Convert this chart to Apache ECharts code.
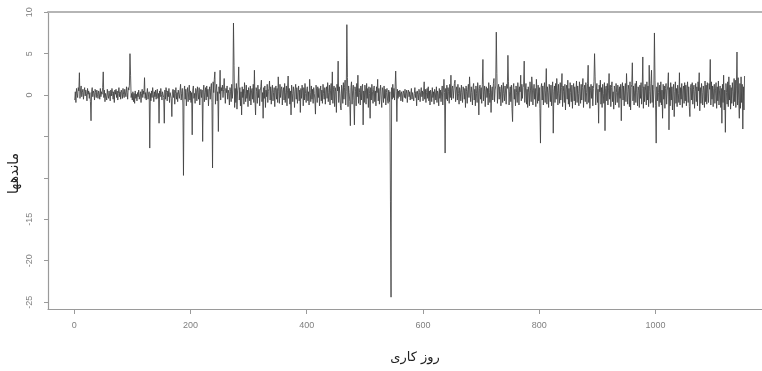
<!DOCTYPE html>
<html>
<head>
<meta charset="utf-8">
<script src="https://cdn.jsdelivr.net/npm/echarts@6/dist/echarts.min.js"></script>
<style>
  html, body { margin: 0; padding: 0; background: #fff; }
  #chart { width: 762px; height: 371px; }
</style>
</head>
<body>
<div id="chart"></div>
<script>
// residuals by working day in blocks of 200 days
const res0001to0200 = [
  -0.6, 0.4, -0.9, 0.8, 0.2, -0.3, 0.9, 0.5, 2.7, -0.4,
  0.6, 1.1, -0.2, 0.3, 0.7, -0.5, 0.4, 0.9, -0.1, 0.6,
  0.2, -0.7, 0.8, 0.1, 0.5, -0.4, 0.3, -0.8, -3.1, 0.4,
  0.9, -0.2, 0.5, 0.2, -0.6, 0.7, 0.3, -0.3, 0.6, 0.1,
  -0.4, 0.5, 0.2, -0.5, 0.8, -0.2, 0.4, 0.1, 0.9, 2.8,
  -0.3, 0.6, -0.8, 0.2, 0.4, -0.6, 0.7, 0.0, -0.4, 0.5,
  0.3, -0.7, 0.6, -0.1, 0.8, 0.2, -0.5, 0.4, -0.9, 0.6,
  0.1, 0.7, -0.3, 0.5, -0.6, 0.2, 0.9, -0.2, 0.4, -0.5,
  0.6, 0.3, -0.4, 0.8, 0.1, -0.3, 0.7, 0.5, -0.2, 1.0,
  0.3, -0.5, 0.9, 0.6, 1.2, 5.0, 2.4, -0.3, 0.2, -0.6,
  0.4, -0.8, 0.2, -1.0, 0.5, -0.4, 0.1, -0.7, 0.3, -0.2,
  0.6, -0.5, -0.1, 0.4, -0.9, 0.2, 0.7, -0.3, 0.5, 0.1,
  2.1, -0.4, 0.3, -0.6, 0.2, 0.8, -0.5, 0.1, 0.4, -6.4,
  0.2, -0.7, 0.5, -0.3, 0.9, 0.1, -0.8, 0.4, -0.2, 0.6,
  -0.5, 0.3, 0.7, -0.4, 0.2, -3.4, 0.5, -0.2, 0.8, 0.1,
  -0.6, 0.4, 0.2, -0.3, -3.4, 0.6, -0.5, 0.9, 0.3, -0.7,
  0.5, -0.2, 0.8, -0.9, 0.3, 0.1, -0.4, -2.6, 0.4, 0.7,
  -0.3, 0.6, -1.1, 0.2, 0.9, -0.5, 0.3, -0.8, 0.6, 0.1,
  -0.4, 0.5, 1.3, -0.6, 0.2, 0.8, -1.2, -9.7, 0.4, 1.1,
  -0.5, 0.7, -1.3, 0.3, 0.9, -0.8, 0.4, 1.2, -0.6, 0.5
]
const res0201to0400 = [
  -0.9, 0.3, -4.8, 0.6, 1.1, -0.4, 0.2, -1.0, 0.8, 0.5,
  -0.7, 1.0, 0.3, -0.5, 0.9, -1.2, 0.4, 0.7, -0.3, 0.6,
  -5.6, 0.5, 1.2, -0.8, 0.3, 0.9, -0.6, 1.1, -0.2, 0.7,
  -1.3, 0.4, 1.0, -0.5, 0.8, 1.4, -0.9, -8.8, 1.6, 0.3,
  1.9, 2.8, -1.1, 0.6, 1.3, -0.7, 0.4, -4.4, 1.0, 0.2,
  3.0, -0.6, 0.9, 0.5, 1.2, -0.3, 0.7, 2.0, 0.4, -1.0,
  0.8, 0.3, 1.1, -0.5, 0.6, 0.2, -1.2, 0.9, 0.4, -0.8,
  1.3, -0.4, 0.6, 8.7, 3.6, -1.5, 0.8, -0.9, 1.4, -1.7,
  0.5, 1.1, 3.4, -0.6, 0.9, -1.3, 0.4, -2.4, 1.0, -0.3,
  0.7, -1.1, 1.5, 0.2, -0.8, 1.2, -0.4, 0.6, -1.4, 0.9,
  0.3, -0.7, 1.1, -1.2, 0.5, 0.8, -0.5, 1.3, -0.9, 3.0,
  -0.6, -2.4, 0.9, 0.4, -1.0, 1.2, -0.3, 0.7, -1.3, 0.5,
  1.0, 1.8, -0.8, 0.3, -2.8, 0.9, -0.4, 1.1, -1.5, 0.6,
  -0.2, 1.3, -0.9, 0.4, 0.8, 1.7, -0.6, 1.0, -1.1, 0.5,
  1.2, -0.7, 0.3, 0.9, -1.4, 0.6, 1.1, -0.5, 0.8, -0.9,
  2.2, 0.4, -1.0, 1.3, -0.3, 0.7, 1.0, -1.2, 0.5, 0.9,
  -0.6, 1.4, -0.9, 0.3, 1.1, -1.3, 0.6, 2.3, -0.4, 0.8,
  -1.1, 0.5, -2.4, 1.2, 0.2, -0.8, 1.0, 0.4, -1.5, 0.7,
  1.3, -0.5, 0.9, -1.0, 0.3, 1.1, -0.7, 0.6, -2.1, 0.8,
  -0.4, 1.2, 0.5, -1.3, 0.9, -0.6, 1.4, 0.2, -0.9, 0.6
]
const res0401to0600 = [
  1.0, -0.7, 0.4, -1.2, 1.9, 0.3, -0.8, 1.1, -0.5, 0.7,
  -1.0, 0.9, 0.2, -0.6, -2.3, 1.2, 0.5, -0.9, 1.0, -0.3,
  0.8, -1.3, 0.4, 1.1, -0.7, 0.6, -1.0, 1.3, 0.2, -0.5,
  0.9, -1.1, 0.5, 1.0, -0.4, 1.5, -0.8, 0.3, 1.2, -1.2,
  0.6, 1.4, -0.6, 2.8, -1.0, 0.7, 1.1, -1.4, 0.9, 0.4,
  -2.1, 1.3, 0.5, 4.1, -0.9, 1.0, 0.2, -1.3, -1.8, 1.2,
  0.6, -1.0, 1.5, -0.5, 0.9, 1.8, -1.2, 0.4, 8.5, 2.1,
  -1.4, 1.1, 0.3, -0.8, -3.7, 0.9, 1.6, -1.1, 0.5, 1.2,
  -0.7, -3.6, 1.0, 0.4, -1.3, 1.4, -0.2, 2.4, -1.0, 0.8,
  0.3, -1.2, 1.1, -0.6, 0.9, 1.3, -3.6, 0.5, -0.9, 1.2,
  0.6, -1.1, 1.4, -0.4, 0.8, -1.5, 1.0, 0.2, -2.8, 0.9,
  -0.6, 1.3, 0.4, -1.0, 0.7, 1.1, -0.8, 0.5, -1.3, 1.0,
  0.3, 1.9, -0.7, 0.8, -1.1, 0.4, 1.2, -0.5, -1.5, 0.9,
  0.5, -0.9, 1.1, -0.4, 0.7, -1.2, 0.3, 0.8, -0.6, -1.0,
  0.6, -0.8, 0.4, -12.8, -24.4, 0.9, -0.5, 1.3, -0.3, 0.8,
  -0.6, 1.0, 2.9, 0.4, -3.2, 0.7, -0.4, 0.5, -0.2, 0.6,
  0.3, -0.7, 0.4, 0.1, -0.8, 0.5, 0.2, -0.3, 0.7, -0.4,
  0.2, 0.6, -0.9, 0.3, 0.6, -0.2, 0.4, -0.6, 0.1, 0.8,
  -0.5, 0.3, 0.5, -0.7, 0.2, 0.9, -0.3, 0.4, -1.3, 0.5,
  0.1, -0.6, 0.7, 0.3, -0.8, 0.4, 0.9, -0.2, 0.5, -0.7
]
const res0601to0800 = [
  0.4, 1.6, -0.5, 0.7, -0.9, 0.3, 0.8, -0.4, 1.0, -0.7,
  0.5, -1.2, 0.6, 0.2, -0.8, 0.9, -0.3, 0.4, -1.1, 0.7,
  0.3, -0.6, 1.0, -0.9, 0.5, 0.2, -1.3, 0.8, -0.4, 0.6,
  -0.8, 0.4, 1.1, -1.2, 0.5, 1.9, 0.3, -7.0, 0.8, -0.5,
  1.2, -0.7, 0.9, 0.4, -1.0, 1.3, -0.3, 2.4, -0.6, 0.8,
  1.1, -0.4, 0.6, 1.4, 1.8, -0.8, 0.5, 1.0, -0.6, 1.3,
  0.2, -1.1, 0.9, 0.5, -0.7, 1.2, 0.3, -0.9, 1.0, 0.6,
  -0.5, 0.8, -1.5, 1.1, 0.4, -1.0, 0.7, 1.3, -0.3, 2.2,
  0.5, -0.8, 1.0, 0.3, -1.2, 0.9, 1.4, -0.6, 0.7, -1.3,
  1.1, 0.2, -0.9, 1.5, 0.6, -2.4, 0.8, 1.2, -0.5, 0.9,
  -1.0, 1.3, 4.3, -0.7, 0.4, 1.1, -1.4, 0.6, 1.0, -0.3,
  0.8, -1.2, 1.5, 0.3, -0.9, 1.2, -2.1, 0.5, 1.0, -0.6,
  1.4, 2.0, -0.8, 0.6, 1.1, 7.6, 2.6, -1.0, 0.9, 1.3,
  -0.5, 1.0, 0.4, -1.3, 1.2, 0.7, -0.9, 1.5, 0.2, -0.7,
  1.1, 0.5, -1.1, 1.3, 0.8, 4.8, 1.6, -1.2, 0.4, 1.0,
  -0.8, 1.2, -1.6, -3.2, 0.9, 1.4, -0.5, 0.7, -1.3, 1.1,
  0.3, -0.9, 1.5, 0.6, -1.2, 1.0, 0.4, 2.4, -0.7, 1.3,
  -0.4, 0.9, 1.2, 4.1, -0.9, 0.5, 1.4, -1.1, 0.7, -1.5,
  1.0, 0.3, -1.3, 1.6, 0.5, -0.8, 2.2, 1.1, -1.2, 0.6,
  1.3, -0.5, 0.8, -1.4, 1.9, 0.4, -1.0, 1.2, -0.7, 0.9
]
const res0801to1000 = [
  -1.6, -5.8, 0.9, 1.4, -0.6, 1.1, -1.2, 0.7, 1.5, -0.9,
  0.5, 3.2, -1.1, 1.0, 0.3, -1.5, 1.3, 0.6, -0.8, 1.2,
  -1.3, 0.8, 1.6, -4.6, 0.4, 1.1, -0.9, 1.4, -0.5, 2.0,
  0.6, -1.2, 1.3, 0.2, -1.0, 1.5, -0.6, 0.9, 2.6, -1.4,
  1.1, 0.4, -0.9, 1.3, -1.8, 0.7, 1.2, -0.5, 1.8, -1.1,
  0.8, -1.4, 1.5, 0.3, -0.8, 1.2, -1.6, 0.6, 1.4, -0.7,
  1.0, -1.2, 0.5, 1.7, -0.9, 1.1, 0.2, -1.3, 1.6, 0.4,
  -1.0, 1.3, -0.6, 0.9, 2.0, -1.5, 0.7, 1.2, -0.8, 1.5,
  0.3, -1.1, 1.4, 3.6, -0.9, 1.0, -1.6, 0.6, 1.3, -0.4,
  1.1, -1.3, 0.8, 1.6, 5.0, 2.2, -1.2, 0.5, 1.4, -0.9,
  0.7, -3.4, 1.2, 0.4, 1.8, -1.1, 0.9, -1.5, 1.3, 0.2,
  -1.0, 1.5, -4.3, 0.8, 1.1, -0.7, 1.4, -1.2, 0.6, 2.6,
  -0.5, 1.2, -1.4, 0.9, 1.6, -0.8, 0.4, -1.7, 1.1, 0.7,
  -1.2, 1.4, 0.3, -0.9, 1.2, 0.6, -1.5, 1.0, -0.4, 1.3,
  -3.1, 0.8, 1.5, -0.6, 1.1, -1.3, 0.5, 1.4, -0.8, 2.6,
  0.4, -1.1, 1.2, 0.7, -1.4, 1.6, -1.8, 0.9, 1.3, 3.9,
  -0.7, 1.1, -1.2, 0.5, 1.4, -0.9, 1.7, 0.3, -1.3, 1.0,
  0.6, -1.5, 1.2, -0.4, 1.5, -1.1, 0.8, 4.6, -1.6, 1.0,
  -0.8, 1.3, 0.5, -1.2, 1.6, -0.6, 1.1, -1.4, 3.6, 0.4,
  -1.0, 1.4, 3.0, -0.9, 1.2, -1.5, 0.7, 7.5, 1.8, -1.3
]
const res1001to1153 = [
  -5.8, 1.0, -0.7, 1.5, 0.3, -1.4, 1.2, -0.9, 1.6, -1.2,
  0.6, -2.8, 1.3, -0.5, 1.1, -1.6, 0.8, 1.4, -1.1, 0.5,
  1.2, 2.7, -4.2, 0.9, -1.3, 1.5, -0.6, 1.0, -1.8, 0.7,
  1.3, -2.6, 0.4, 1.6, -1.0, 0.8, -1.4, 1.2, 0.2, -0.9,
  2.7, -1.2, 0.9, -0.5, 1.4, -1.5, 0.6, 1.1, -1.0, 1.5,
  -0.7, 1.2, -1.3, 0.8, 1.6, -0.9, 1.0, -1.4, -2.6, 0.9,
  1.3, -0.6, 1.5, -1.1, 0.7, 1.2, -1.6, 0.4, 1.4, -0.8,
  1.0, -1.3, 1.6, 0.5, 2.7, -1.9, 0.9, -1.0, 1.4, 0.3,
  -1.2, 1.1, 0.6, -1.5, 1.7, -0.8, 1.2, -1.1, 1.5, 0.2,
  -0.9, 1.4, 0.7, 4.3, -1.2, 1.6, -0.5, 1.1, -1.4, 0.8,
  1.3, -1.0, 0.6, 1.5, -1.6, 1.0, -0.7, 1.7, -1.2, 0.5,
  1.1, -1.5, 0.8, -3.4, 1.3, -0.9, 2.4, -1.8, 0.6, -4.5,
  1.4, 0.3, -1.1, 1.6, -1.4, 2.2, -0.6, 1.2, -1.7, 0.9,
  -1.0, 1.5, 0.4, -1.3, 2.0, -0.8, 1.8, -1.5, 1.1, 5.2,
  -1.2, 2.1, -0.7, -2.8, 1.4, -1.6, 2.2, -0.9, 1.3, -4.1,
  1.0, -1.8, 2.3
]

const xTicks = [0, 200, 400, 600, 800, 1000]
const yTicks = [-25, -20, -15, -10, -5, 0, 5, 10]
const yTickLabels = [-25, -20, -15, 0, 5, 10]

const xName = 'روز کاری'
const yName = 'ماندهها'

const residuals = [].concat(res0001to0200, res0201to0400, res0401to0600,
  res0601to0800, res0801to1000, res1001to1153)
const points = residuals.map((v, i) => [i + 1, v])

const axisGray = '#9a9a9a'
const labelGray = '#808080'

const chart = echarts.init(document.getElementById('chart'), null, { renderer: 'canvas' })

chart.setOption({
  animation: false,
  backgroundColor: '#fff',
  grid: { left: 48, right: 0, top: 12, bottom: 62, outerBoundsMode: 'none', containLabel: false },
  xAxis: [
    {
      type: 'value',
      min: -45,
      max: 1183,
      position: 'bottom',
      axisLine: { show: true, onZero: false, lineStyle: { color: axisGray, width: 1.2 } },
      axisTick: { show: true, customValues: xTicks, length: 5, lineStyle: { color: axisGray } },
      axisLabel: {
        customValues: xTicks, color: labelGray, fontSize: 9, margin: 12, fontFamily: 'Liberation Sans',
        formatter: v => String(v)
      },
      splitLine: { show: false },
      name: xName,
      nameLocation: 'middle',
      nameGap: 42,
      nameMoveOverlap: false,
      nameTextStyle: { fontSize: 13, color: '#222', fontFamily: 'DejaVu Sans', padding: [0, 0, 0, 20] }
    },
    {
      type: 'value',
      min: -45,
      max: 1183,
      position: 'top',
      axisLine: { show: true, onZero: false, lineStyle: { color: '#b5b5b5', width: 2 } },
      axisTick: { show: false },
      axisLabel: { show: false },
      splitLine: { show: false }
    }
  ],
  yAxis: {
    type: 'value',
    min: -25.83,
    max: 10.03,
    axisLine: { show: true, onZero: false, lineStyle: { color: axisGray, width: 1.2 } },
    axisTick: { show: true, customValues: yTicks, length: 4, lineStyle: { color: axisGray } },
    axisLabel: {
      customValues: yTickLabels, rotate: 90, color: labelGray, fontSize: 9, margin: 14, fontFamily: 'Liberation Sans',
      formatter: v => String(v)
    },
    splitLine: { show: false },
    name: yName,
    nameLocation: 'middle',
    nameGap: 27,
    nameMoveOverlap: false,
    nameRotate: 90,
    nameTextStyle: { fontSize: 14, color: '#222', fontFamily: 'DejaVu Sans', padding: [0, 26, 0, 0] }
  },
  series: [
    {
      type: 'line',
      data: points,
      xAxisIndex: 0,
      showSymbol: false,
      symbol: 'none',
      lineStyle: { color: '#404040', width: 0.85 },
      silent: true
    }
  ]
})
</script>
</body>
</html>
